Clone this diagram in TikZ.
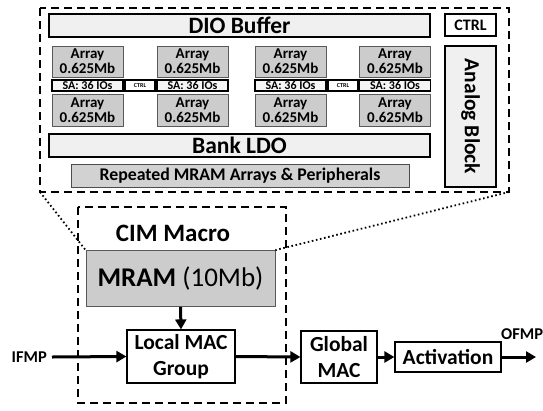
\documentclass[tikz,border=0pt]{standalone}
\usepackage{fontspec}
\setmainfont{Carlito}
\usetikzlibrary{arrows.meta}
\begin{document}
\begin{tikzpicture}[x=1pt,y=-1pt,
  lightbox/.style={draw=black,line width=1.5pt,fill=gray!12,inner sep=0pt},
  arraybox/.style={draw=gray!70!black,line width=0.8pt,fill=gray!40,inner sep=0pt,align=center,font=\bfseries\fontsize{15}{17}\selectfont},
  sabox/.style={draw=black,line width=1.2pt,fill=gray!8,inner sep=0pt,font=\bfseries\fontsize{12}{12}\selectfont},
  ctrlsmall/.style={draw=black,line width=1.2pt,fill=white,inner sep=0pt,font=\bfseries\fontsize{6}{6}\selectfont},
  plainbox/.style={draw=black,line width=1.2pt,fill=white,inner sep=0pt,align=center,font=\bfseries\fontsize{21.5}{26}\selectfont},
  dashbox/.style={draw=black,line width=1.8pt,dash pattern=on 8pt off 5pt},
  dotline/.style={line width=1.8pt,dash pattern=on 1.6pt off 2.6pt},
  arr/.style={line width=3pt,-{Triangle[length=10pt,width=11pt]}},
  sidelabel/.style={font=\bfseries\fontsize{16.5}{18}\selectfont}
]
\useasboundingbox (0,0) rectangle (543,410);
% outer dashed
\draw[dashbox] (40,8) rectangle (509,192);
\node[lightbox,minimum width=381pt,minimum height=23pt,font=\bfseries\fontsize{23.5}{24}\selectfont] (dio) at (239.5,25.5) {DIO Buffer};
\node[lightbox,fill=white,minimum width=51pt,minimum height=22pt,font=\bfseries\fontsize{16}{17}\selectfont] (ctrl) at (470.5,25) {CTRL};
\node[lightbox,minimum width=51pt,minimum height=141pt] (analog) at (470.5,116.5) {};
\node[rotate=-90,font=\bfseries\fontsize{21.5}{22}\selectfont] (analogt) at (analog.center) {Analog Block};
% arrays
\foreach \cx/\n in {87.5/a,192.5/b,290.5/c,395/d}{
  \node[arraybox,minimum width=71pt,minimum height=31pt] (\n1) at (\cx,61.5) {Array\\[-2pt]0.625Mb};
  \node[sabox,minimum width=71pt,minimum height=11pt] (\n s) at (\cx,85.5) {SA: 36 IOs};
  \node[arraybox,minimum width=71pt,minimum height=32pt] (\n2) at (\cx,110) {Array\\[-2pt]0.625Mb};
}
\node[ctrlsmall,minimum width=30pt,minimum height=11pt] (c1) at (140,85.5) {CTRL};
\node[ctrlsmall,minimum width=30pt,minimum height=11pt] (c2) at (343,85.5) {CTRL};
\node[lightbox,minimum width=381pt,minimum height=23pt,font=\bfseries\fontsize{23.5}{24}\selectfont] (ldo) at (239.5,145.5) {Bank LDO};
\node[draw=gray!60!black,line width=0.8pt,fill=gray!35,inner sep=0pt,minimum width=338pt,minimum height=23pt,font=\bfseries\fontsize{17.8}{19}\selectfont] (rep) at (240,175.5) {Repeated MRAM Arrays \& Peripherals};
% bottom
\draw[dashbox] (78,207) rectangle (286,403);
\node[font=\bfseries\fontsize{25}{26}\selectfont] (cim) at (173,233) {CIM Macro};
\node[draw=gray!70!black,line width=0.8pt,fill=gray!40,inner sep=0pt,minimum width=189pt,minimum height=56pt,font=\fontsize{27}{29}\selectfont] (mram) at (180.5,278.5) {\textbf{MRAM} (10Mb)};
\node[plainbox,minimum width=108pt,minimum height=53pt] (local) at (181,356.5) {Local MAC\\Group};
\node[plainbox,minimum width=76pt,minimum height=52pt] (global) at (339,357) {Global\\MAC};
\node[plainbox,minimum width=106pt,minimum height=30pt] (act) at (448,357) {Activation};
\node[sidelabel,anchor=east,inner sep=0pt] (ifmp) at (47,357) {IFMP};
\node[sidelabel,anchor=west,inner sep=0pt] (ofmp) at (501,334) {OFMP};
\coordinate (inbeg) at (52,357);
\coordinate (outend) at (536,357);
\draw[arr] (mram.south) -- (local.north);
\draw[arr] (inbeg) -- (local.west);
\draw[arr] (local.east) -- (global.west);
\draw[arr] (global.east) -- (act.west);
\draw[arr] (act.east) -- (outend);
% dotted
\coordinate (obl) at (40,192);
\coordinate (obr) at (509,192);
\draw[dotline] (obl) -- (mram.north west);
\draw[dotline] (obr) -- (mram.north east);
\end{tikzpicture}
\end{document}
